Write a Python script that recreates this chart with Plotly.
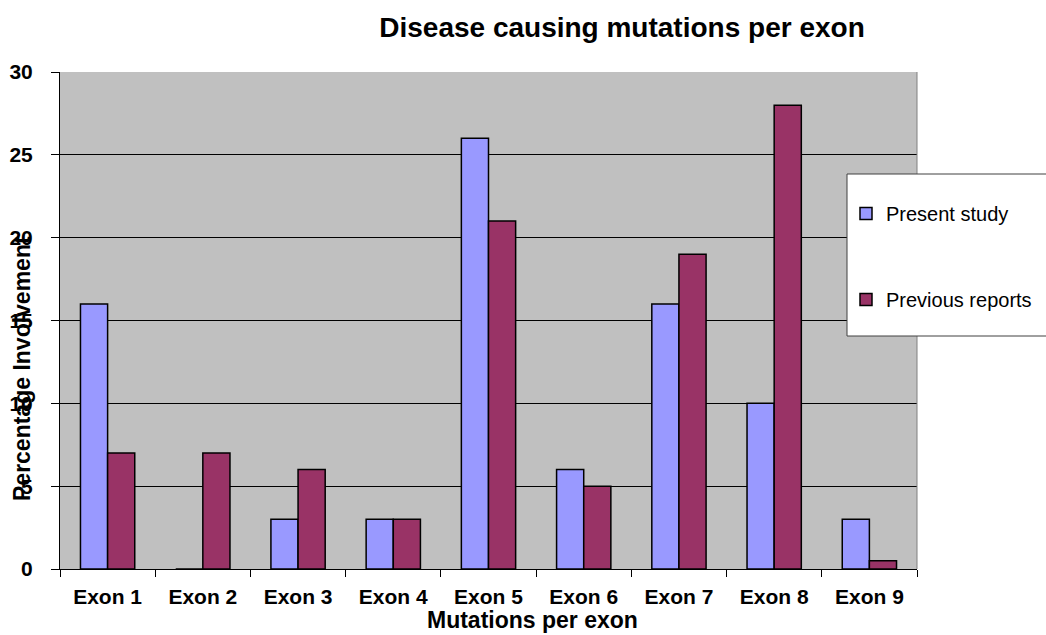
import plotly.graph_objects as go

# Exon categories and percentage involvement per series
exons = ["Exon 1", "Exon 2", "Exon 3", "Exon 4", "Exon 5",
         "Exon 6", "Exon 7", "Exon 8", "Exon 9"]
present_study = [16, 0, 3, 3, 26, 6, 16, 10, 3]
previous_reports = [7, 7, 6, 3, 21, 5, 19, 28, 0.5]
y_ticks = [0, 5, 10, 15, 20, 25, 30]

W, H = 1046, 635
M_L, M_R, M_T, M_B = 60, 129, 72, 66
PW, PH = W - M_L - M_R, H - M_T - M_B


def px_x(x):
    return (x - M_L) / PW


def px_y(y):
    return (H - M_B - y) / PH


FONT = "Liberation Sans, Arial, sans-serif"

fig = go.Figure()
fig.add_trace(go.Bar(
    x=exons, y=present_study, name="Present study",
    marker=dict(color="#9999FF", line=dict(color="black", width=1.5)),
    legendgroup="a",
))
fig.add_trace(go.Bar(
    x=exons, y=previous_reports, name="Previous reports",
    marker=dict(color="#993366", line=dict(color="black", width=1.5)),
    legendgroup="b",
))

fig.update_layout(
    width=W, height=H,
    margin=dict(l=M_L, r=M_R, t=M_T, b=M_B, autoexpand=False),
    paper_bgcolor="white",
    plot_bgcolor="#C0C0C0",
    barmode="group",
    bargap=0.43,
    bargroupgap=0,
    font=dict(family=FONT, color="black"),
    title=dict(
        text="<b>Disease causing mutations per exon</b>",
        xref="paper", yref="container",
        x=px_x(622), y=1 - 27 / H,
        xanchor="center", yanchor="middle",
        font=dict(size=28, family=FONT, color="black"),
    ),
    showlegend=True,
    legend=dict(
        x=px_x(846), y=px_y(194),
        xanchor="left", yanchor="top",
        bgcolor="rgba(0,0,0,0)",
        borderwidth=0,
        traceorder="grouped",
        tracegroupgap=57,
        font=dict(size=20, family=FONT, color="black"),
    ),
)

fig.update_xaxes(
    type="category",
    showline=True, linecolor="black", linewidth=1,
    ticks="outside", tickson="boundaries", ticklen=7, tickcolor="black",
    tickwidth=1,
    tickfont=dict(size=21, family=FONT, color="black"),
    tickprefix="<b>", ticksuffix="</b>",
    ticklabelstandoff=9,
    showgrid=False,
)
fig.update_yaxes(
    range=[0, 30],
    tickvals=y_ticks,
    ticktext=[f"<b>{v}</b>" for v in y_ticks],
    showline=True, linecolor="black", linewidth=1,
    ticks="outside", ticklen=8, tickcolor="black", tickwidth=1,
    tickfont=dict(size=21, family=FONT, color="black"),
    ticklabelstandoff=14,
    showgrid=True, gridcolor="black", gridwidth=1,
    zeroline=False,
)

# Right edge of the plot area
fig.add_shape(type="line", xref="paper", yref="paper",
              x0=1, x1=1, y0=0, y1=1,
              line=dict(color="#808080", width=1))

# Legend frame
fig.add_shape(type="rect", xref="paper", yref="paper",
              x0=px_x(847), x1=px_x(1050), y0=px_y(336), y1=px_y(174),
              fillcolor="white", line=dict(color="#404040", width=1),
              layer="above")

# Axis titles
fig.add_annotation(
    text="<b>Percentage Involvement</b>", textangle=-90,
    xref="paper", yref="paper", x=px_x(22), y=px_y(369),
    xanchor="center", yanchor="middle", showarrow=False,
    font=dict(size=23, family=FONT, color="black"),
)
fig.add_annotation(
    text="<b>Mutations per exon</b>",
    xref="paper", yref="paper", x=px_x(532), y=px_y(620),
    xanchor="center", yanchor="middle", showarrow=False,
    font=dict(size=23, family=FONT, color="black"),
)

fig.write_html("out.html")
